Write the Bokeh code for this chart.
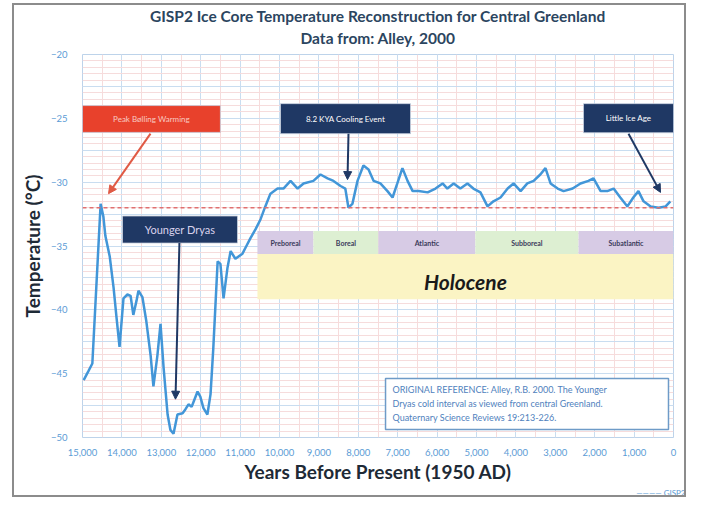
from bokeh.plotting import figure
from bokeh.models import (Range1d, SingleIntervalTicker, NumeralTickFormatter, Span,
                          Arrow, NormalHead, Label, Title, ColumnDataSource)
from bokeh.embed import file_html
from bokeh.resources import INLINE

# ---- data ----
years = [14970, 14850, 14750, 14540, 14470, 14420, 14310, 14210, 14140, 14060,
         13960, 13860, 13780, 13710, 13630, 13580, 13480, 13380, 13270, 13200,
         13100, 13020, 12940, 12840, 12770, 12690, 12590, 12460, 12390, 12310,
         12230, 12180, 12080, 12010, 11930, 11830, 11750, 11680, 11570, 11500,
         11420, 11320, 11240, 11120, 10940, 10840, 10740, 10610, 10480, 10360,
         10230, 10050, 9900, 9720, 9540, 9390, 9140, 8960, 8780, 8630,
         8450, 8330, 8250, 8150, 8020, 7870, 7740, 7610, 7440, 7260,
         7130, 7010, 6880, 6750, 6620, 6470, 6240, 6040, 5860, 5740,
         5580, 5410, 5230, 5080, 4900, 4720, 4570, 4390, 4210, 4060,
         3880, 3710, 3550, 3380, 3250, 3120, 2940, 2790, 2560, 2360,
         2160, 2030, 1850, 1680, 1520, 1350, 1170, 1020, 890, 760,
         580, 380, 200, 80]
temps = [-45.5, -44.8, -44.2, -31.7, -32.7, -34.2, -35.8, -38.3, -40.5, -42.9,
         -39.1, -38.8, -38.9, -40.4, -39.3, -38.5, -39.0, -40.9, -43.6, -46.0,
         -43.6, -41.1, -44.6, -48.2, -49.4, -49.7, -48.2, -48.1, -47.8, -47.4,
         -47.6, -47.2, -46.4, -46.8, -47.7, -48.2, -46.6, -43.0, -36.2, -36.4,
         -39.1, -36.7, -35.4, -36.0, -35.6, -35.0, -34.4, -33.7, -32.9, -31.9,
         -30.9, -30.5, -30.5, -29.9, -30.5, -30.1, -29.9, -29.4, -29.7, -29.9,
         -30.3, -30.5, -32.0, -31.7, -29.9, -28.7, -29.0, -29.9, -30.1, -30.7,
         -31.2, -30.1, -28.9, -29.9, -30.7, -30.7, -30.8, -30.5, -30.1, -30.5,
         -30.1, -30.5, -30.1, -30.5, -30.8, -31.9, -31.5, -31.2, -30.5, -30.1,
         -30.7, -30.1, -29.9, -29.4, -28.9, -30.1, -30.5, -30.7, -30.5, -30.1,
         -29.9, -29.7, -30.7, -30.7, -30.5, -31.2, -31.9, -31.2, -30.7, -31.5,
         -31.9, -32.0, -31.9, -31.5]

series_name = "GISP2"
x_ticks_step = 1000
y_ticks_step = 5
threshold_temp = -32

period_names = ["Preboreal", "Boreal", "Atlantic", "Subboreal", "Subatlantic"]
period_start = [10560, 9140, 7490, 5030, 2410]
period_end = [9140, 7490, 5030, 2410, 0]
period_colors = ["#D7CBE5", "#DDEFD2", "#D7CBE5", "#DDEFD2", "#D7CBE5"]

ref_lines = ["ORIGINAL REFERENCE: Alley, R.B. 2000. The Younger",
             "Dryas cold interval as viewed from central Greenland.",
             "Quaternary Science Reviews 19:213-226."]

FONT = "Lato"
NAVY = "#1F3864"
LINE_BLUE = "#4296D8"

p = figure(width=674, height=494, output_backend="svg", toolbar_location=None,
           x_range=Range1d(15000, 0), y_range=Range1d(-50, -20),
           min_border_left=68, min_border_right=15, min_border_top=49, min_border_bottom=62)
p.styles = {"border": "2px solid #8C8C8C", "margin-left": "12px", "margin-top": "3px"}
p.background_fill_color = "white"
p.border_fill_color = "white"
p.outline_line_color = "#BDD3EA"

# titles
p.add_layout(Title(text="Data from: Alley, 2000", align="center", text_font=FONT,
                   text_font_size="15.5px", text_font_style="bold", text_color="#2B4560",
                   standoff=16), "above")
p.add_layout(Title(text="GISP2 Ice Core Temperature Reconstruction for Central Greenland",
                   align="center", text_font=FONT, text_font_size="15.5px",
                   text_font_style="bold", text_color="#2B4560", standoff=-13), "above")

# axes
p.xaxis.ticker = SingleIntervalTicker(interval=x_ticks_step)
p.xaxis.formatter = NumeralTickFormatter(format="0,0")
p.yaxis.ticker = SingleIntervalTicker(interval=y_ticks_step)
for ax in (p.xaxis[0], p.yaxis[0]):
    ax.axis_line_color = None
    ax.major_tick_line_color = None
    ax.minor_tick_line_color = None
    ax.major_label_text_color = "#5B9BD5"
    ax.major_label_text_font = FONT
    ax.major_label_text_font_size = "9.5px"
    ax.axis_label_text_font = FONT
    ax.axis_label_text_font_style = "bold"
    ax.axis_label_text_font_size = "19px"
    ax.axis_label_text_color = "#1E2A36"
p.xaxis.axis_label = "Years Before Present (1950 AD)"
p.yaxis.axis_label = "Temperature (°C)"
p.xaxis.major_label_standoff = 5
p.xaxis.axis_label_standoff = 1
p.yaxis.major_label_standoff = 9
p.yaxis.axis_label_standoff = 4

# grids
p.xgrid.ticker = SingleIntervalTicker(interval=x_ticks_step, num_minor_ticks=2)
p.xgrid.grid_line_color = "#C9DDF0"
p.xgrid.minor_grid_line_color = "#F6DCDC"
p.ygrid.ticker = SingleIntervalTicker(interval=2.5, num_minor_ticks=5)
p.ygrid.grid_line_color = "#C9DDF0"
p.ygrid.minor_grid_line_color = "#F6DCDC"

# threshold line
p.add_layout(Span(location=threshold_temp, dimension="width", line_color="#E07070",
                  line_dash="4 3", line_width=1.5))

# Holocene band
p.quad(left=period_start[0], right=period_end[-1], top=-35.63, bottom=-39.17,
       fill_color="#FBF4C4", line_color=None)
p.quad(left=period_start, right=period_end, top=-33.83, bottom=-35.63,
       fill_color=period_colors, line_color=None)
for name, a, b in zip(period_names, period_start, period_end):
    p.add_layout(Label(x=(a + b) / 2, y=-34.73, text=name, text_font=FONT,
                       text_font_size="7px", text_font_style="bold", text_color="#3A3A5A",
                       text_align="center", text_baseline="middle"))
p.add_layout(Label(x=5280, y=-37.75, text="Holocene", text_font=FONT,
                   text_font_size="21px", text_font_style="bold italic", text_color="#1A1A1A",
                   text_align="center", text_baseline="middle"))

# data line
src = ColumnDataSource(dict(x=years, y=temps))
r = p.line("x", "y", source=src, line_color=LINE_BLUE, line_width=2.5)

# annotation boxes
def box(l, rr, t, b, color, text, tsize, tcolor):
    p.quad(left=l, right=rr, top=t, bottom=b, fill_color=color, line_color="#C8D0E0",
           line_width=0.8)
    p.add_layout(Label(x=(l + rr) / 2, y=(t + b) / 2, text=text, text_font=FONT,
                       text_font_size=tsize, text_color=tcolor,
                       text_align="center", text_baseline="middle"))

box(15000, 11500, -24.0, -26.1, "#E8412C", "Peak Bølling Warming", "8px", "#F8C9C2")
box(13985, 11066, -32.65, -34.77, NAVY, "Younger Dryas", "11px", "#D9D2EC")
box(9975, 6675, -23.85, -26.2, NAVY, "8.2 KYA Cooling Event", "8px", "#FFFFFF")
box(2284, 0, -23.85, -26.13, NAVY, "Little Ice Age", "8px", "#FFFFFF")

def arrow(x0, y0, x1, y1, color):
    p.add_layout(Arrow(x_start=x0, y_start=y0, x_end=x1, y_end=y1, line_color=color,
                       line_width=2,
                       end=NormalHead(size=8, fill_color=color, line_color=color)))

arrow(13274, -26.2, 14340, -30.9, "#E05A45")
arrow(12540, -34.77, 12640, -47.0, NAVY)
arrow(8249, -26.2, 8274, -29.8, NAVY)
arrow(1142, -26.2, 330, -30.8, NAVY)

# reference box
p.quad(left=7309, right=127, top=-45.37, bottom=-49.38, fill_color="white",
       line_color="#6E9BC8", line_width=1.5)
for i, t in enumerate(ref_lines):
    p.add_layout(Label(x=7132, y=-46.24 - 1.1 * i, text=t, text_font=FONT,
                       text_font_size="9px", text_color="#4F81BD",
                       text_align="left", text_baseline="middle"))

# legend key as a small caption in the panel under the axis
p.add_layout(Title(text="\u2014\u2014\u2014\u2014 " + series_name, align="right", offset=-12,
                   text_font=FONT, text_font_size="8px", text_font_style="normal",
                   text_color="#5B9BD5", standoff=0), "below")

open("out.html", "w").write(file_html(p, INLINE))
